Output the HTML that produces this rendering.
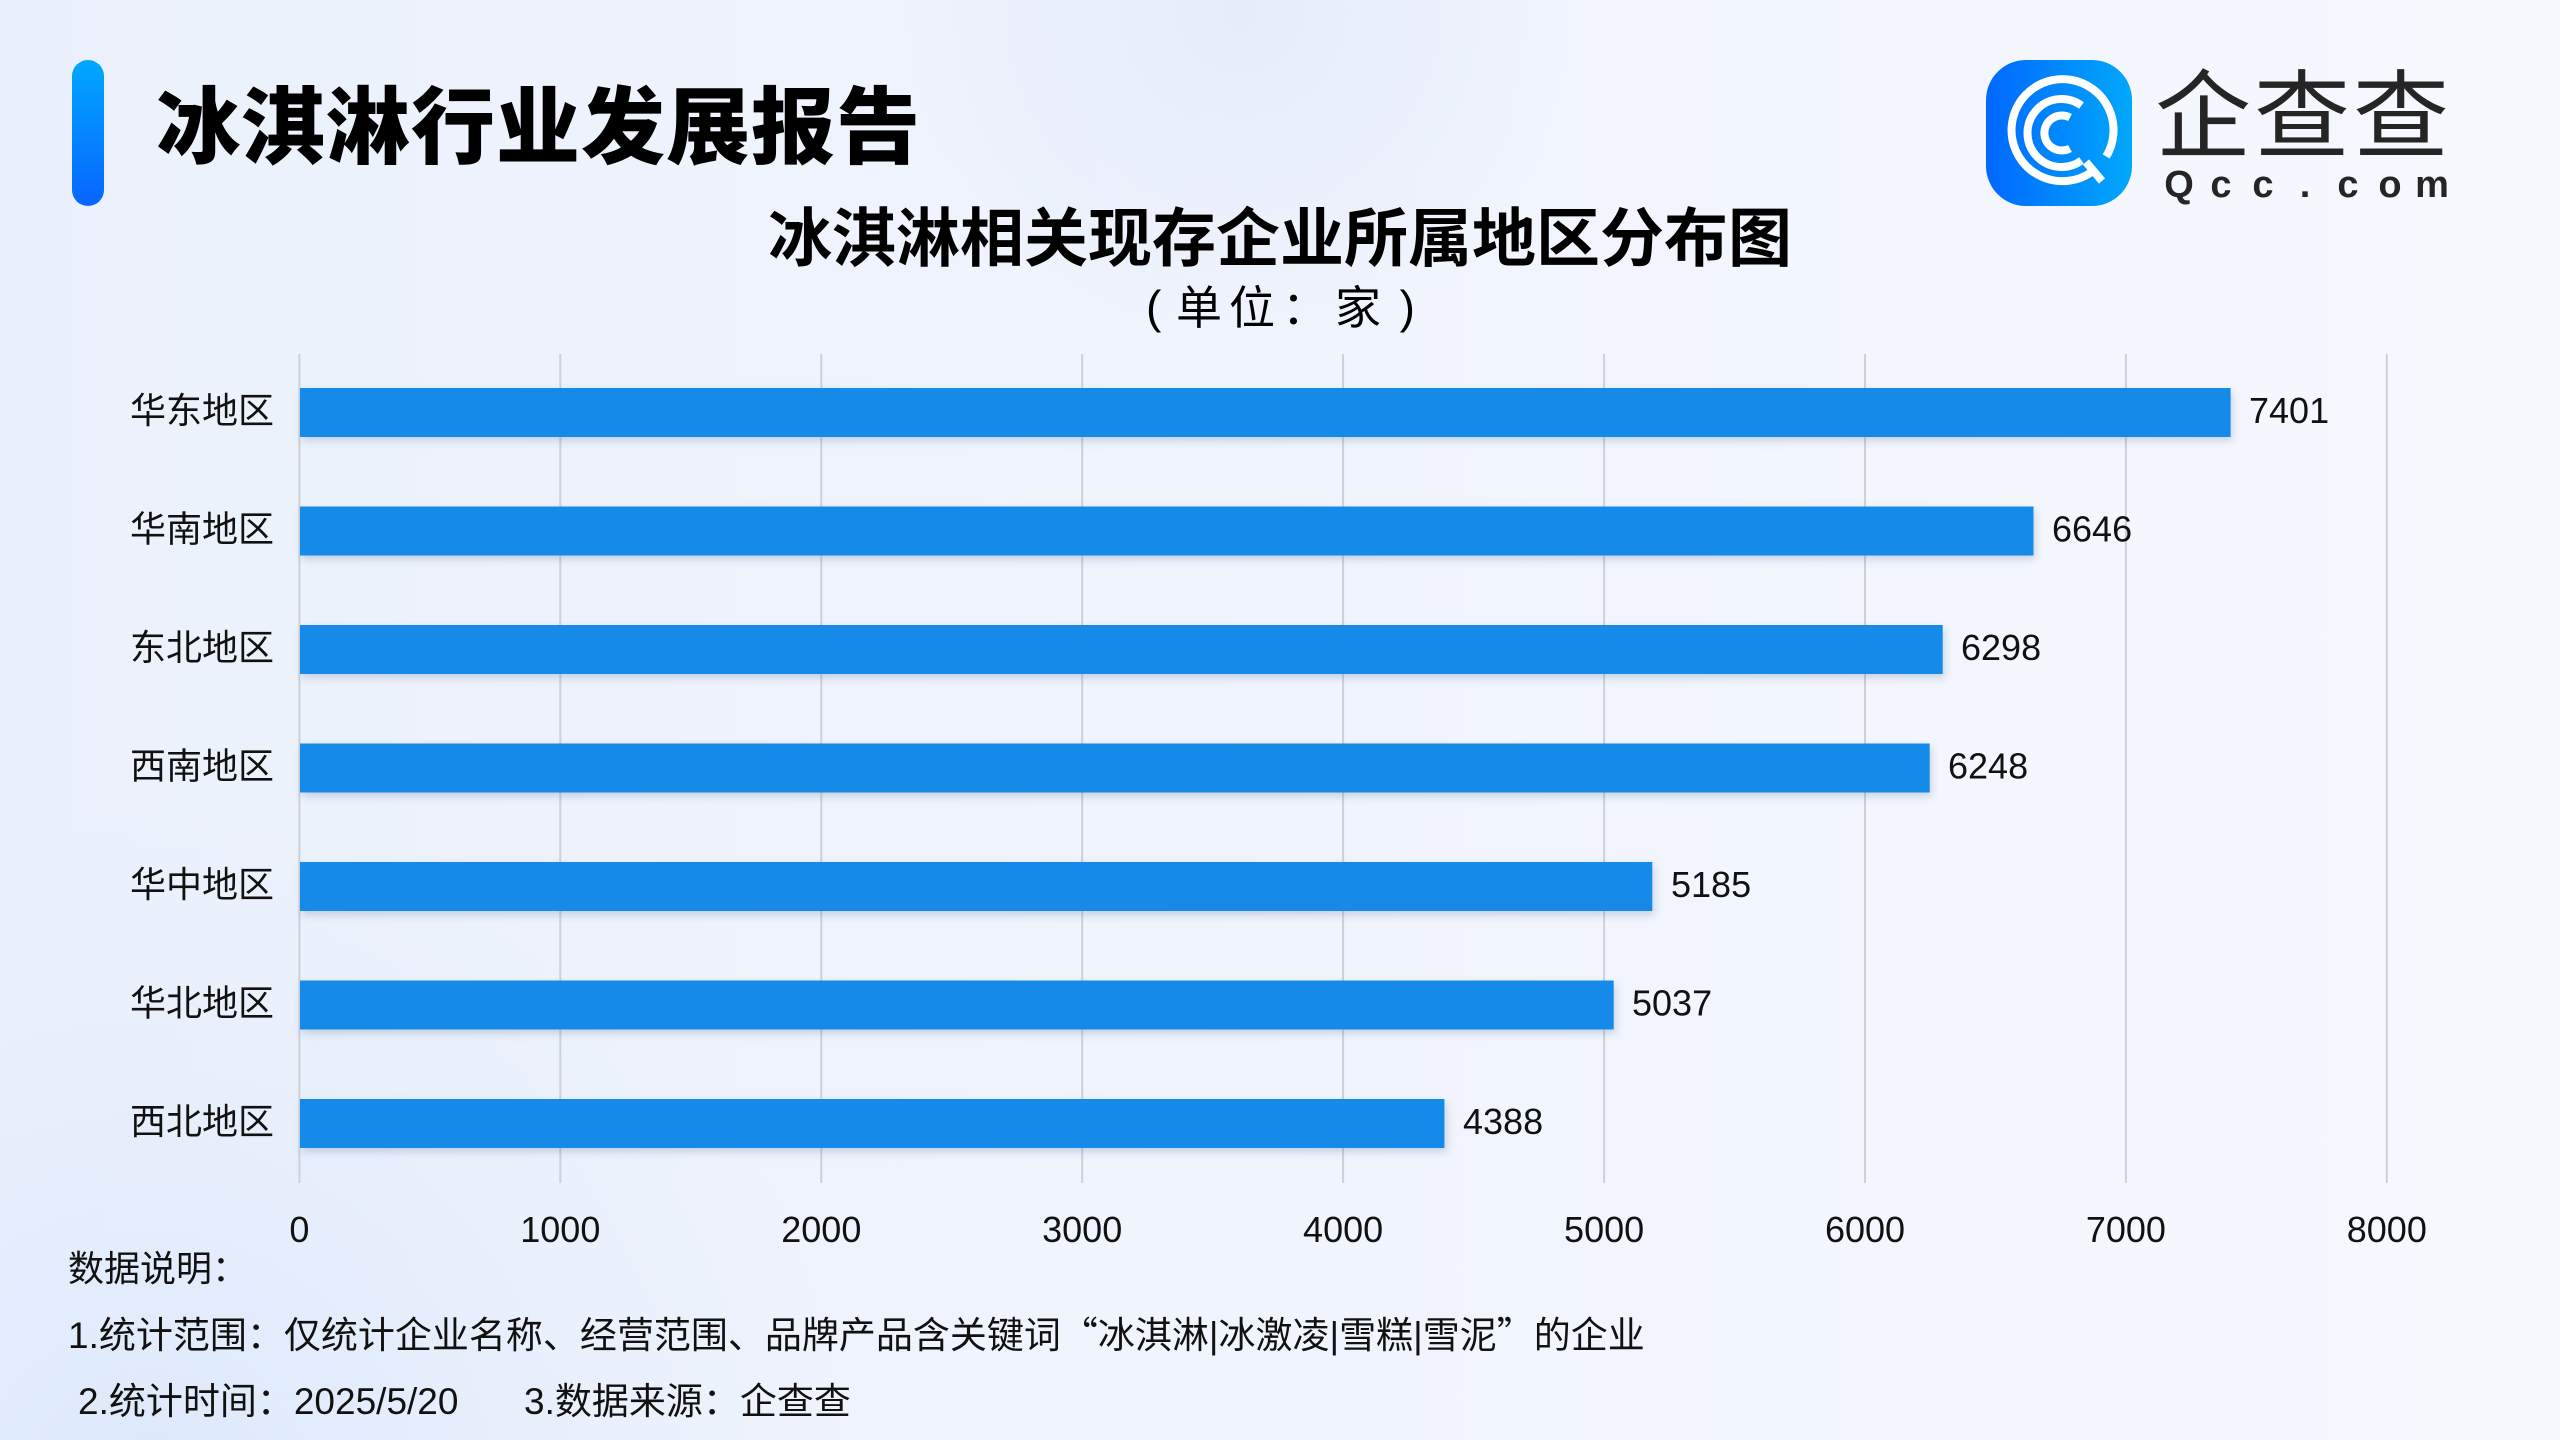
<!DOCTYPE html>
<html>
<head>
<meta charset="utf-8">
<style>
  html,body{margin:0;padding:0;}
  body{width:2560px;height:1440px;overflow:hidden;}
  svg{display:block;}
  .cjk{font-family:"Liberation Sans","Noto Sans CJK SC",sans-serif;}
  .num{font-family:"Liberation Sans","Noto Sans CJK SC",sans-serif;}
</style>
</head>
<body>
<svg width="2560" height="1440" viewBox="0 0 2560 1440" xmlns="http://www.w3.org/2000/svg">
  <defs>
    <linearGradient id="bg" x1="0" y1="0" x2="1" y2="0">
      <stop offset="0" stop-color="#ebf1fc"/>
      <stop offset="0.5" stop-color="#f0f4fd"/>
      <stop offset="1" stop-color="#f6f8fe"/>
    </linearGradient>
    <radialGradient id="blobTop" cx="1240" cy="10" r="340" gradientUnits="userSpaceOnUse">
      <stop offset="0" stop-color="#e4ecfa" stop-opacity="0.9"/>
      <stop offset="0.8" stop-color="#e8eefb" stop-opacity="0.4"/>
      <stop offset="1" stop-color="#e8eefb" stop-opacity="0"/>
    </radialGradient>
    <radialGradient id="blobBL" cx="150" cy="1500" r="700" gradientUnits="userSpaceOnUse">
      <stop offset="0" stop-color="#dbe8fb" stop-opacity="1"/>
      <stop offset="1" stop-color="#e6eefc" stop-opacity="0"/>
    </radialGradient>
    <linearGradient id="accent" x1="0" y1="0" x2="0" y2="1">
      <stop offset="0" stop-color="#00a8ff"/>
      <stop offset="1" stop-color="#0864ff"/>
    </linearGradient>
    <linearGradient id="logoBg" x1="0" y1="0" x2="1" y2="0">
      <stop offset="0" stop-color="#0068ff"/>
      <stop offset="1" stop-color="#00a8fb"/>
    </linearGradient>
    <filter id="shadow" x="-5%" y="-50%" width="110%" height="220%">
      <feDropShadow dx="2" dy="4" stdDeviation="4" flood-color="#34558a" flood-opacity="0.22"/>
    </filter>
  </defs>

  <!-- background -->
  <rect x="0" y="0" width="2560" height="1440" fill="url(#bg)"/>
  <rect x="0" y="0" width="2560" height="1440" fill="url(#blobTop)"/>
  <rect x="0" y="0" width="2560" height="1440" fill="url(#blobBL)"/>

  <!-- header accent & title -->
  <rect x="72" y="60" width="32" height="146" rx="16" ry="16" fill="url(#accent)"/>
  <text x="156" y="157" class="cjk" font-size="84" font-weight="900" letter-spacing="1" fill="#000">冰淇淋行业发展报告</text>

  <!-- logo -->
  <rect x="1986" y="60" width="146" height="146" rx="40" ry="40" fill="url(#logoBg)"/>
  <g fill="none" stroke="#ffffff" stroke-width="8" stroke-linecap="butt">
    <path d="M 2106.2 156.5 A 51 51 0 1 0 2090.5 172.8"/>
    <line x1="2086" y1="162" x2="2102" y2="181"/>
    <path d="M 2081.5 105.5 A 34 34 0 1 0 2081.5 160.5"/>
    <path d="M 2070 117.5 A 17.5 17.5 0 1 0 2070 148.5"/>
  </g>
  <text x="2155" y="150" class="cjk" font-size="96" letter-spacing="3" fill="#252525">企查查</text>
  <g class="num" font-size="38" font-weight="bold" fill="#252525" text-anchor="middle">
    <text x="2179" y="197">Q</text>
    <text x="2221" y="197">c</text>
    <text x="2263" y="197">c</text>
    <text x="2305" y="197">.</text>
    <text x="2348" y="197">c</text>
    <text x="2390" y="197">o</text>
    <text x="2432" y="197">m</text>
  </g>

  <!-- chart titles -->
  <text x="1280" y="261" class="cjk" font-size="64" font-weight="bold" text-anchor="middle" fill="#000">冰淇淋相关现存企业所属地区分布图</text>
  <text x="1146" y="323" class="num" font-size="46" fill="#000">(</text>
  <text x="1282" y="324" class="cjk" font-size="46" letter-spacing="7" text-anchor="middle" fill="#000">单位：家</text>
  <text x="1415" y="323" class="num" font-size="46" text-anchor="end" fill="#000">)</text>

  <!-- gridlines -->
  <g stroke="#cdd0d6" stroke-width="2">
    <line x1="299.4" y1="354" x2="299.4" y2="1183"/>
    <line x1="560.3" y1="354" x2="560.3" y2="1183"/>
    <line x1="821.3" y1="354" x2="821.3" y2="1183"/>
    <line x1="1082.2" y1="354" x2="1082.2" y2="1183"/>
    <line x1="1343.1" y1="354" x2="1343.1" y2="1183"/>
    <line x1="1604.1" y1="354" x2="1604.1" y2="1183"/>
    <line x1="1865.0" y1="354" x2="1865.0" y2="1183"/>
    <line x1="2125.9" y1="354" x2="2125.9" y2="1183"/>
    <line x1="2386.8" y1="354" x2="2386.8" y2="1183"/>
  </g>

  <!-- bars -->
  <g fill="#178ae9" filter="url(#shadow)">
    <rect x="300" y="388" width="1930.6" height="49"/>
    <rect x="300" y="506.5" width="1733.5" height="49"/>
    <rect x="300" y="625" width="1642.7" height="49"/>
    <rect x="300" y="743.5" width="1629.7" height="49"/>
    <rect x="300" y="862" width="1352.3" height="49"/>
    <rect x="300" y="980.5" width="1313.7" height="49"/>
    <rect x="300" y="1099" width="1144.4" height="49"/>
  </g>

  <!-- category labels -->
  <g class="cjk" font-size="36" text-anchor="end" fill="#111">
    <text x="274" y="423">华东地区</text>
    <text x="274" y="541.5">华南地区</text>
    <text x="274" y="660">东北地区</text>
    <text x="274" y="778.5">西南地区</text>
    <text x="274" y="897">华中地区</text>
    <text x="274" y="1015.5">华北地区</text>
    <text x="274" y="1134">西北地区</text>
  </g>

  <!-- value labels -->
  <g class="num" font-size="36" fill="#111">
    <text x="2249" y="423">7401</text>
    <text x="2052" y="541.5">6646</text>
    <text x="1961" y="660">6298</text>
    <text x="1948" y="778.5">6248</text>
    <text x="1671" y="897">5185</text>
    <text x="1632" y="1015.5">5037</text>
    <text x="1463" y="1134">4388</text>
  </g>

  <!-- x tick labels -->
  <g class="num" font-size="36" text-anchor="middle" fill="#111">
    <text x="299.4" y="1242">0</text>
    <text x="560.3" y="1242">1000</text>
    <text x="821.3" y="1242">2000</text>
    <text x="1082.2" y="1242">3000</text>
    <text x="1343.1" y="1242">4000</text>
    <text x="1604.1" y="1242">5000</text>
    <text x="1865.0" y="1242">6000</text>
    <text x="2125.9" y="1242">7000</text>
    <text x="2386.8" y="1242">8000</text>
  </g>

  <!-- footnotes -->
  <g class="cjk" font-size="36" fill="#111">
    <text x="68" y="1281">数据说明：</text>
    <text x="68" y="1348" font-size="37">1.统计范围：仅统计企业名称、经营范围、品牌产品含关键词<tspan font-family="Noto Sans CJK SC, sans-serif">“</tspan>冰淇淋|冰激凌|雪糕|雪泥<tspan font-family="Noto Sans CJK SC, sans-serif">”</tspan>的企业</text>
    <text x="78" y="1414" font-size="37">2.统计时间：2025/5/20</text>
    <text x="524" y="1414" font-size="37">3.数据来源：企查查</text>
  </g>
</svg>
</body>
</html>
